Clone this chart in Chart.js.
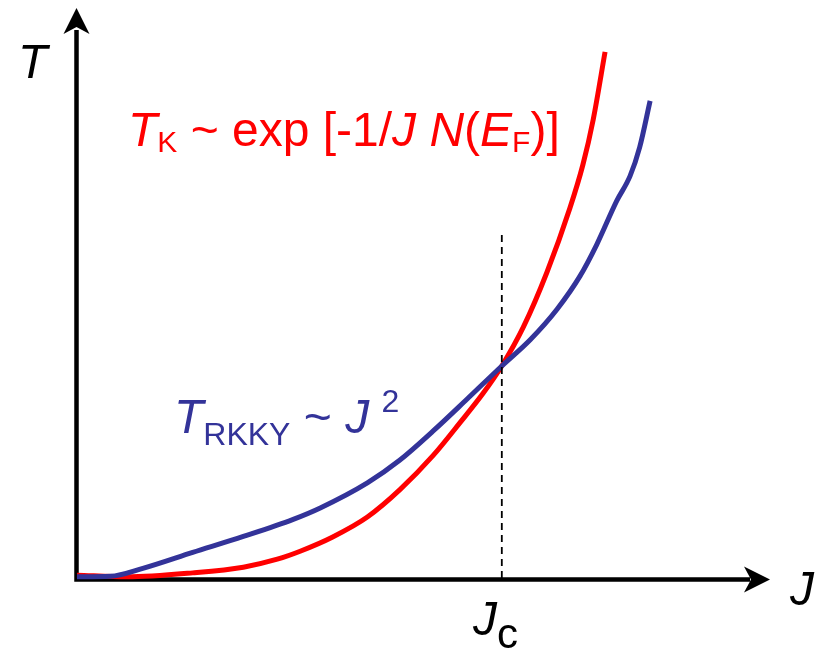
<!DOCTYPE html>
<html>
<head>
<meta charset="utf-8">
<script src="https://cdn.jsdelivr.net/npm/chart.js@4.4.1/dist/chart.umd.min.js"></script>
<style>
  html, body { margin: 0; padding: 0; background: #fff; }
  canvas { display: block; }
</style>
</head>
<body>
<canvas id="chart" width="822" height="648"></canvas>
<script>
// coupling J (arbitrary units) and temperature T (arbitrary units)
const kondoJ = [0, 0.72, 1.67, 2.40, 2.89, 3.22, 3.69, 4.19, 4.66, 5.14, 5.53, 5.86, 6.13, 6.44, 6.78, 7.11, 7.30, 7.45, 7.62];
const kondoT = [0.05, 0.02, 0.09, 0.19, 0.33, 0.47, 0.72, 1.07, 1.55, 2.15, 2.73, 3.24, 3.72, 4.40, 5.36, 6.48, 7.25, 8.05, 9.23];

const rkkyJ = [0, 0.48, 0.95, 1.67, 2.40, 3.12, 3.51, 4.19, 4.66, 5.14, 5.63, 6.13, 6.54, 6.93, 7.26, 7.50, 7.79, 7.98, 8.12, 8.27];
const rkkyT = [0.02, 0.03, 0.17, 0.45, 0.73, 1.03, 1.23, 1.67, 2.07, 2.58, 3.14, 3.72, 4.18, 4.72, 5.30, 5.85, 6.62, 7.05, 7.56, 8.37];

// critical coupling where the two scales cross
const jc = 6.13;
const jcLineTop = 6.05;

const RED = '#ff0000';
const BLUE = '#333399';
const FONT = '"Liberation Sans", Arial, sans-serif';

const toPoints = (xs, ys) => xs.map((x, i) => ({ x: x, y: ys[i] }));

// labels written as runs: italic letters, subscripts, superscripts
const labels = [
    { x: 128, y: 146, color: RED, size: 48, subSize: 30, subShift: 6, runs: [
        { t: 'T', i: true }, { t: 'K', sub: true }, { t: ' ~ exp [-1/' }, { t: 'J', i: true },
        { t: ' ' }, { t: 'N', i: true }, { t: '(' }, { t: 'E', i: true }, { t: 'F', sub: true }, { t: ')]' }
    ] },
    { x: 174, y: 433, color: BLUE, size: 48, subSize: 32, subShift: 12, runs: [
        { t: 'T', i: true }, { t: 'RKKY', sub: true }, { t: ' ~ ' }, { t: 'J', i: true },
        { t: ' ', small: true }, { t: '2', sup: true }
    ] },
    { x: 18, y: 78, color: '#000', size: 48, runs: [{ t: 'T', i: true }] },
    { x: 790, y: 605, color: '#000', size: 48, runs: [{ t: 'J', i: true }] },
    { x: 473, y: 635, color: '#000', size: 48, subSize: 42, subShift: 13, runs: [{ t: 'J', i: true }, { t: 'c', sub: true }] }
];

function drawRuns(ctx, lbl) {
    let x = lbl.x;
    ctx.fillStyle = lbl.color;
    ctx.textBaseline = 'alphabetic';
    ctx.textAlign = 'left';
    lbl.runs.forEach(r => {
        let size = lbl.size, dy = 0;
        if (r.sub) { size = lbl.subSize; dy = lbl.subShift; }
        if (r.sup) { size = 32; dy = -21; }
        if (r.small) { size = 44; }
        ctx.font = (r.i ? 'italic ' : '') + size + 'px ' + FONT;
        ctx.fillText(r.t, x, lbl.y + dy);
        x += ctx.measureText(r.t).width;
    });
}

// arrowhead with swept-back wings, pointing along (dx, dy)
function arrowHead(ctx, tx, ty, dx, dy) {
    const len = 26, half = 13, notch = 19;
    const nx = -dy, ny = dx;
    ctx.beginPath();
    ctx.moveTo(tx, ty);
    ctx.lineTo(tx - dx * len + nx * half, ty - dy * len + ny * half);
    ctx.lineTo(tx - dx * notch, ty - dy * notch);
    ctx.lineTo(tx - dx * len - nx * half, ty - dy * len - ny * half);
    ctx.closePath();
    ctx.fill();
}

const axesPlugin = {
    id: 'axes',
    beforeDatasetsDraw(chart) {
        const ctx = chart.ctx;
        const xs = chart.scales.x, ys = chart.scales.y;
        const x0 = xs.getPixelForValue(0) - 0.5;
        const y0 = ys.getPixelForValue(0) + 1.5;
        const area = chart.chartArea;
        ctx.save();
        ctx.strokeStyle = '#000';
        ctx.fillStyle = '#000';
        ctx.lineWidth = 4.5;
        ctx.beginPath();
        ctx.moveTo(x0, y0 + 2.25);
        ctx.lineTo(x0, area.top + 22);
        ctx.moveTo(x0 - 2.25, y0);
        ctx.lineTo(area.right - 20, y0);
        ctx.stroke();
        arrowHead(ctx, x0, area.top, 0, -1);
        arrowHead(ctx, area.right, y0, 1, 0);
        ctx.restore();
    },
    afterDraw(chart) {
        const ctx = chart.ctx;
        ctx.save();
        labels.forEach(l => drawRuns(ctx, l));
        ctx.restore();
    }
};

new Chart(document.getElementById('chart'), {
    type: 'scatter',
    data: {
        datasets: [
            {
                label: 'Jc',
                data: [{ x: jc, y: 0 }, { x: jc, y: jcLineTop }],
                showLine: true,
                borderColor: '#000',
                borderWidth: 1.8,
                borderDash: [7, 5],
                pointRadius: 0,
                clip: false
            },
            {
                label: 'T_RKKY',
                data: toPoints(rkkyJ, rkkyT),
                showLine: true,
                borderColor: BLUE,
                borderWidth: 5,
                cubicInterpolationMode: 'monotone',
                pointRadius: 0,
                clip: false
            },
            {
                label: 'T_K',
                data: toPoints(kondoJ, kondoT),
                showLine: true,
                borderColor: RED,
                borderWidth: 5,
                cubicInterpolationMode: 'monotone',
                pointRadius: 0,
                clip: false
            }
        ]
    },
    options: {
        responsive: false,
        animation: false,
        layout: { padding: { left: 77, right: 52, top: 8, bottom: 70 } },
        plugins: { legend: { display: false }, tooltip: { enabled: false } },
        scales: {
            x: { type: 'linear', min: 0, max: 10, display: false },
            y: { type: 'linear', min: 0, max: 10, display: false }
        }
    },
    plugins: [axesPlugin]
});
</script>
</body>
</html>
